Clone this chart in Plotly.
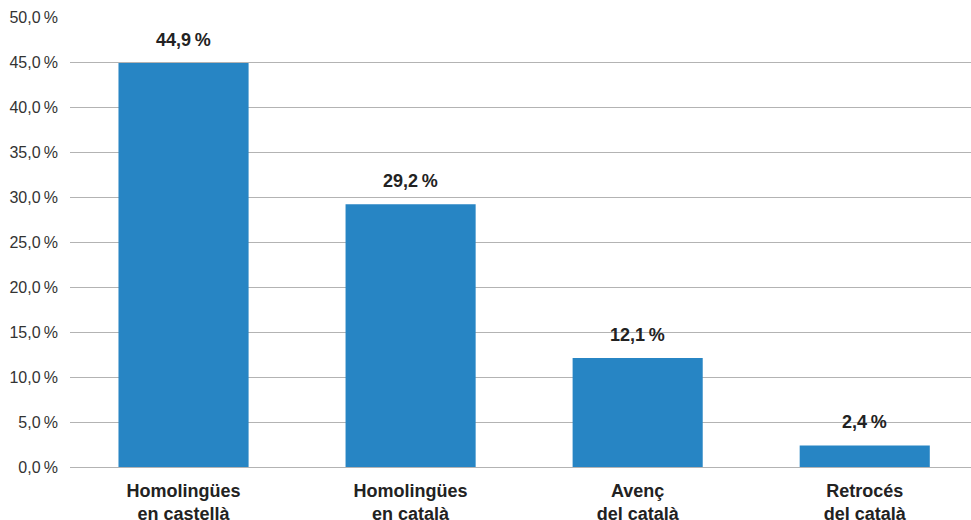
import plotly.graph_objects as go

categories = ["Homolingües<br>en castellà", "Homolingües<br>en català", "Avenç<br>del català", "Retrocés<br>del català"]
values = [44.9, 29.2, 12.1, 2.4]
value_labels = ["44,9\u2009%", "29,2\u2009%", "12,1\u2009%", "2,4\u2009%"]
tick_vals = [0, 5, 10, 15, 20, 25, 30, 35, 40, 45, 50]
tick_text = ["0,0\u2009%", "5,0\u2009%", "10,0\u2009%", "15,0\u2009%", "20,0\u2009%", "25,0\u2009%",
             "30,0\u2009%", "35,0\u2009%", "40,0\u2009%", "45,0\u2009%", "50,0\u2009%"]

fig = go.Figure()
fig.add_trace(go.Bar(
    x=list(range(len(categories))), y=values,
    marker=dict(color="#2785c4", line=dict(width=0)),
    width=0.573,
    hoverinfo="skip",
))

for i, (v, t) in enumerate(zip(values, value_labels)):
    fig.add_annotation(x=i, y=v, text="<b>" + t + "</b>", showarrow=False,
                       yshift=23, yanchor="middle",
                       font=dict(family="Liberation Sans, Arial, sans-serif", size=18, color="#222222"))

fig.update_layout(
    width=971, height=520,
    margin=dict(l=70, r=0, t=17, b=53, autoexpand=False),
    plot_bgcolor="white", paper_bgcolor="white",
    showlegend=False,
    font=dict(family="Liberation Sans, Arial, sans-serif", color="#333333"),
)
fig.update_xaxes(
    range=[-0.5, 3.468],
    tickvals=list(range(len(categories))),
    ticktext=["<b>" + c.replace("<br>", "</b><br><b>") + "</b>" for c in categories],
    tickfont=dict(size=18, color="#222222"),
    showgrid=False, showline=False, ticks="", zeroline=False,
    automargin=False, ticklabelstandoff=11,
)
fig.update_yaxes(
    range=[0, 50],
    tickvals=tick_vals, ticktext=tick_text,
    tickfont=dict(size=16, color="#333333"),
    showgrid=True, gridcolor="#b3b3b3", gridwidth=1,
    zeroline=True, zerolinecolor="#b3b3b3", zerolinewidth=1,
    ticks="", ticklabelstandoff=11, showline=False,
    automargin=False,
)

fig.write_html("out.html", config={"displayModeBar": False},
               post_script="document.body.style.margin='0';")
